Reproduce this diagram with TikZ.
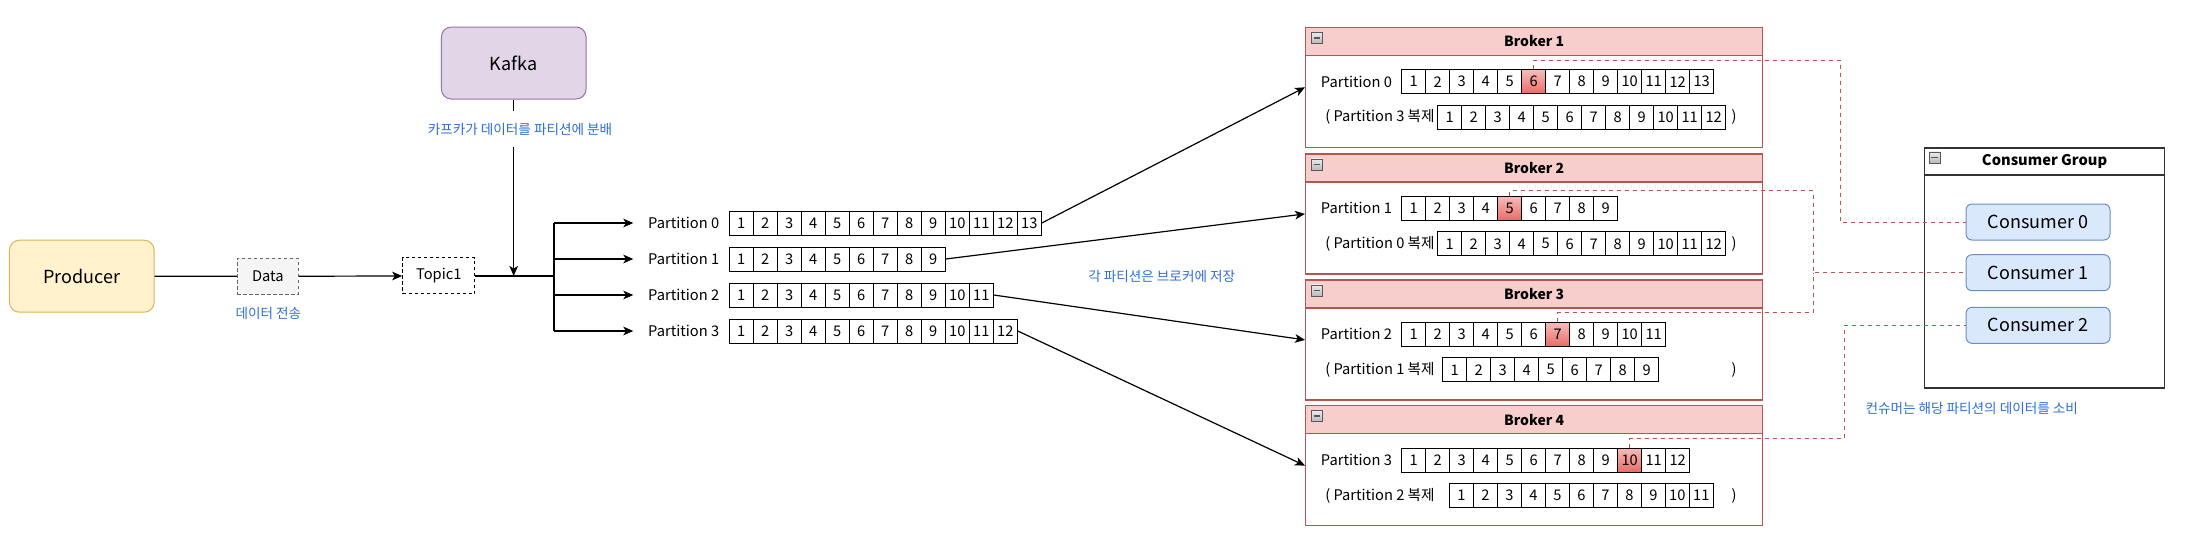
\documentclass[tikz,border=0pt]{standalone}
\usepackage{fontspec}
\setmainfont{Noto Sans CJK KR}
\usetikzlibrary{arrows.meta, positioning, calc}

\definecolor{prodfill}{HTML}{FFF2CC}
\definecolor{prodline}{HTML}{D6B656}
\definecolor{kafkafill}{HTML}{E1D5E7}
\definecolor{kafkaline}{HTML}{9673A6}
\definecolor{datafill}{HTML}{F5F5F5}
\definecolor{dataline}{HTML}{666666}
\definecolor{brokerfill}{HTML}{F8CECC}
\definecolor{brokerline}{HTML}{B85450}
\definecolor{consfill}{HTML}{DAE8FC}
\definecolor{consline}{HTML}{6C8EBF}
\definecolor{hottop}{HTML}{F5BDBB}
\definecolor{hotbottom}{HTML}{EA6B66}
\definecolor{noteblue}{HTML}{2D6FD8}

\begin{document}
\begin{tikzpicture}[
    x=0.75pt, y=-0.75pt,
    mainbox/.style={rectangle, draw, rounded corners=7.5pt, line width=0.75pt, minimum width=108.5pt, minimum height=54pt, align=center, font=\fontsize{13.5}{15}\selectfont},
    dashbox/.style={rectangle, draw, dash pattern=on 2.5pt off 2pt, line width=0.75pt, minimum height=27pt, font=\fontsize{11}{13}\selectfont},
    cell/.style={rectangle, draw, line width=0.75pt, minimum width=18pt, minimum height=18pt, inner sep=0pt, font=\fontsize{11}{13}\selectfont},
    hotcell/.style={cell, top color=hottop, bottom color=hotbottom},
    plabel/.style={anchor=west, inner sep=0pt, font=\fontsize{11}{13}\selectfont},
    tlabel/.style={plabel, inner xsep=11pt},
    brokerbody/.style={rectangle, draw=brokerline, fill=white, line width=0.9pt, anchor=north west, minimum width=342.75pt, minimum height=90pt, inner sep=0pt},
    brokerhead/.style={rectangle, draw=brokerline, fill=brokerfill, line width=0.9pt, anchor=north, minimum width=342.75pt, minimum height=21pt, inner sep=0pt, font=\bfseries\fontsize{10.5}{12}\selectfont},
    groupbody/.style={rectangle, draw=black!80, fill=white, line width=1pt, anchor=north west, minimum width=180.25pt, minimum height=180pt, inner sep=0pt},
    grouphead/.style={rectangle, draw=black!80, fill=white, line width=1pt, anchor=north, minimum width=180.25pt, minimum height=20.25pt, inner sep=0pt, font=\bfseries\fontsize{11}{13}\selectfont},
    minusicon/.style={rectangle, draw=gray!70!black, top color=gray!15, bottom color=gray!55, minimum size=8.25pt, inner sep=0pt,
        path picture={\draw[line width=1.2pt] ([xshift=1.8pt]path picture bounding box.west) -- ([xshift=-1.8pt]path picture bounding box.east);}},
    consumer/.style={rectangle, draw=consline, fill=consfill, rounded corners=4.5pt, line width=0.75pt, minimum width=108pt, minimum height=27pt, font=\fontsize{13.5}{15}\selectfont},
    note/.style={text=noteblue, inner sep=1pt, font=\fontsize{10.2}{12}\selectfont},
    arrow/.style={-{Stealth[length=7.5pt, width=6.5pt, inset=2pt]}, line width=0.9pt},
    linkline/.style={draw=brokerline, dash pattern=on 3pt off 3pt, line width=0.75pt},
]
\useasboundingbox (0,0) rectangle (2194,554);

% ============ Producer / Kafka / Topic ============
\node[mainbox, draw=prodline, fill=prodfill] (producer) at (81.8,276.2) {Producer};
\node[dashbox, draw=dataline, fill=datafill, minimum width=45.75pt] (data) at (267.8,276.3) {Data};
\node[note] (datanote) at (268.3,313.3) {데이터 전송};
\node[dashbox, fill=white, minimum width=54.25pt] (topic) at (438.8,275.9) {Topic1};
\node[mainbox, draw=kafkaline, fill=kafkafill] (kafka) at (513.7,63) {Kafka};

\coordinate (split) at (kafka |- topic);
\coordinate (fork) at (554,275.9);

\draw[line width=0.9pt] (producer) -- (data);
\draw[arrow] (data) -- (topic);
\draw[line width=0.9pt] (topic.east) -- (fork);
\draw[arrow] (kafka.south) -- (split);
\node[note, fill=white, minimum height=27.5pt] (kafkanote) at (520,129) {카프카가 데이터를 파티션에 분배};

% ============ Topic partitions ============
\node[tlabel] (tp0) at (633.3,223) {Partition 0};
\node[tlabel] (tp1) at (633.3,259) {Partition 1};
\node[tlabel] (tp2) at (633.3,295) {Partition 2};
\node[tlabel] (tp3) at (633.3,331) {Partition 3};

\draw[line width=0.9pt] (fork |- tp0) -- (fork |- tp3);
\foreach \p in {0,...,3}
    \draw[arrow] (fork |- tp\p) -- (tp\p.west);

\foreach \i in {1,...,13} \node[cell] (t0c\i) at ({717.3+24*\i},223) {\i};
\foreach \i in {1,...,9}  \node[cell] (t1c\i) at ({717.3+24*\i},259) {\i};
\foreach \i in {1,...,11} \node[cell] (t2c\i) at ({717.3+24*\i},295) {\i};
\foreach \i in {1,...,12} \node[cell] (t3c\i) at ({717.3+24*\i},331) {\i};

\node[note] (storenote) at (1161.7,276.7) {각 파티션은 브로커에 저장};

% ============ Broker 1 ============
\node[brokerbody] (b1) at (1305,26.7) {};
\node[brokerhead] (b1head) at (b1.north) {Broker 1};
\node[minusicon] (b1icon) at ([xshift=8.8pt, yshift=-8.3pt]b1.north west) {};
\node[plabel] (b1p) at (1320.7,81.7) {Partition 0};
\foreach \i in {1,...,13} {
    \ifnum\i=6 \def\kind{hotcell}\else\def\kind{cell}\fi
    \node[\kind] (b1c\i) at ({1389.7+24*\i},81.7) {\i};
}
\node[plabel] (b1r) at (1325,117.2) {( Partition 3 복제};
\foreach \i in {1,...,12} \node[cell] (b1r\i) at ({1425.7+24*\i},117.2) {\i};
\node[plabel, anchor=center] (b1close) at (1734,117.2) {)};

% ============ Broker 2 ============
\node[brokerbody] (b2) at (1305,153.3) {};
\node[brokerhead] (b2head) at (b2.north) {Broker 2};
\node[minusicon] (b2icon) at ([xshift=8.8pt, yshift=-8.3pt]b2.north west) {};
\node[plabel] (b2p) at (1320.7,208.3) {Partition 1};
\foreach \i in {1,...,9} {
    \ifnum\i=5 \def\kind{hotcell}\else\def\kind{cell}\fi
    \node[\kind] (b2c\i) at ({1389.7+24*\i},208.3) {\i};
}
\node[plabel] (b2r) at (1325,243.8) {( Partition 0 복제};
\foreach \i in {1,...,12} \node[cell] (b2r\i) at ({1425.7+24*\i},243.8) {\i};
\node[plabel, anchor=center] (b2close) at (1734,243.8) {)};

% ============ Broker 3 ============
\node[brokerbody] (b3) at (1305,279.3) {};
\node[brokerhead] (b3head) at (b3.north) {Broker 3};
\node[minusicon] (b3icon) at ([xshift=8.8pt, yshift=-8.3pt]b3.north west) {};
\node[plabel] (b3p) at (1320.7,334.3) {Partition 2};
\foreach \i in {1,...,11} {
    \ifnum\i=7 \def\kind{hotcell}\else\def\kind{cell}\fi
    \node[\kind] (b3c\i) at ({1389.7+24*\i},334.3) {\i};
}
\node[plabel] (b3r) at (1325,369.8) {( Partition 1 복제};
\foreach \i in {1,...,9} \node[cell] (b3r\i) at ({1430.7+24*\i},369.8) {\i};
\node[plabel, anchor=center] (b3close) at (1734,369.8) {)};

% ============ Broker 4 ============
\node[brokerbody] (b4) at (1305,405) {};
\node[brokerhead] (b4head) at (b4.north) {Broker 4};
\node[minusicon] (b4icon) at ([xshift=8.8pt, yshift=-8.3pt]b4.north west) {};
\node[plabel] (b4p) at (1320.7,460) {Partition 3};
\foreach \i in {1,...,12} {
    \ifnum\i=10 \def\kind{hotcell}\else\def\kind{cell}\fi
    \node[\kind] (b4c\i) at ({1389.7+24*\i},460) {\i};
}
\node[plabel] (b4r) at (1325,495.5) {( Partition 2 복제};
\foreach \i in {1,...,11} \node[cell] (b4r\i) at ({1437.3+24*\i},495.5) {\i};
\node[plabel, anchor=center] (b4close) at (1734,495.5) {)};

% Partitions to brokers
\draw[arrow] (t0c13.east) -- (b1.west);
\draw[arrow] (t1c9.east) -- (b2.west);
\draw[arrow] (t2c11.east) -- (b3.west);
\draw[arrow] (t3c12.east) -- (b4.west);

% ============ Consumer Group ============
\node[groupbody] (cg) at (1923.7,147.3) {};
\node[grouphead] (cghead) at (cg.north) {Consumer Group};
\node[minusicon] (cgicon) at ([xshift=8.1pt, yshift=-7.5pt]cg.north west) {};
\node[consumer] (c0) at (2038,222) {Consumer 0};
\node[consumer] (c1) at (2038,272.7) {Consumer 1};
\node[consumer] (c2) at (2038,325.3) {Consumer 2};
\node[note] (cgnote) at (1971.7,408.3) {컨슈머는 해당 파티션의 데이터를 소비};

% Brokers to consumers
\coordinate (j0) at (1840,222);
\coordinate (j1) at (1813,272.7);
\coordinate (j2) at (1844,325.3);
\draw[linkline] (b1c6.north) -- ++(0,-9) -| (j0) -- (c0.west);
\draw[linkline] (b2c5.north) -- ++(0,-5) -| (j1) -- (c1.west);
\draw[linkline] (b3c7.north) -- ++(0,-9) -| (j1);
\draw[linkline] (b4c10.north) -- ++(0,-9) -| (j2) -- (c2.west);

\end{tikzpicture}
\end{document}
